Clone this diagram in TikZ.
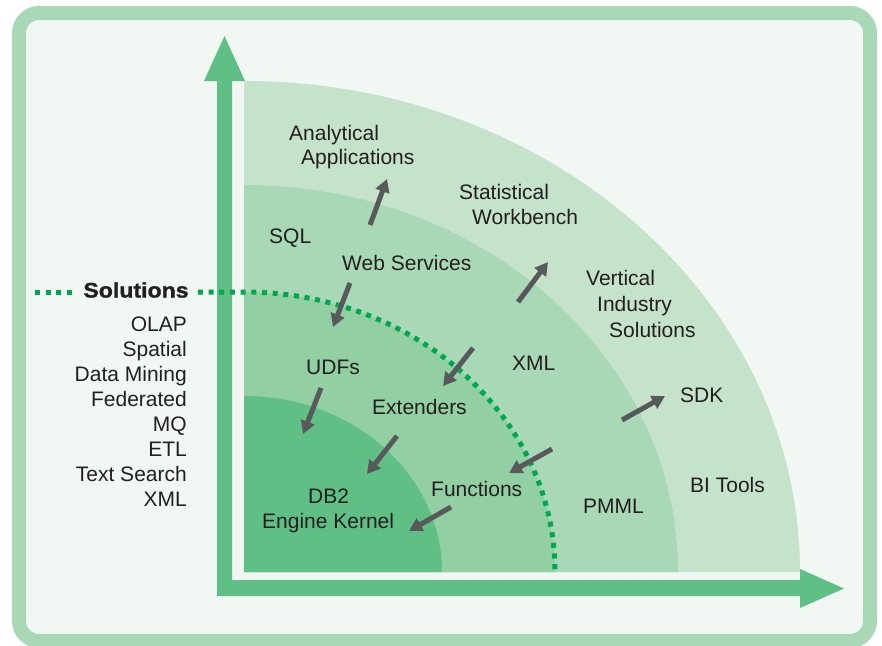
\documentclass[tikz,border=0pt]{standalone}
\usepackage{fontspec}
\setmainfont{Liberation Sans}
\newfontfamily\heavyfont{Liberation Sans}[FakeStretch=1.1, FakeBold=1.3]
\usetikzlibrary{arrows.meta}

\definecolor{frameGreen}{HTML}{A9D8B7}
\definecolor{bgGreen}{HTML}{F1F8F3}
\definecolor{bandA}{HTML}{C4E3CA}
\definecolor{bandB}{HTML}{A9D8B7}
\definecolor{bandC}{HTML}{92CFA3}
\definecolor{bandD}{HTML}{5FBF85}
\definecolor{axisGreen}{HTML}{5FBF85}
\definecolor{dotGreen}{HTML}{00A650}
\definecolor{arrowGray}{HTML}{58595B}
\definecolor{textGray}{HTML}{231F20}

\begin{document}
\begin{tikzpicture}[x=1pt, y=-1pt,
      lbl/.style = {font=\fontsize{21}{25}\selectfont, text=textGray,
                    inner sep=0pt, anchor=base west},
     flow/.style = {draw=arrowGray, line width=5pt,
                    -{Triangle[length=13pt,width=14pt]}},
  dotline/.style = {draw=dotGreen, line width=5pt, dash pattern=on 5pt off 5.7pt}
      ]
    \useasboundingbox (0,0) rectangle (882,645);
    % frame
    \draw[frameGreen, line width=14pt, rounded corners=20pt, fill=bgGreen]
        (19,13) rectangle (870,641);
    % quarter bands
    \foreach \rx/\ry/\c in {556/491/bandA, 434/387/bandB, 311/280/bandC, 198/176/bandD}
        \fill[\c] (244,572) -- ++(\rx,0)
            arc[start angle=0, end angle=-90, x radius=\rx, y radius=\ry] -- cycle;
    % axes
    \fill[axisGreen] (217,596) -- (217,81) -- (204,81) -- (224.5,36) -- (245,81)
        -- (232,81) -- (232,580) -- (800,580) -- (800,569) -- (844,588.5)
        -- (800,608) -- (800,596) -- cycle;

    % solutions line
    \node[lbl, anchor=center, inner xsep=9pt, font=\fontsize{21}{25}\heavyfont\bfseries]
        (sol) at (136,290) {Solutions};
    \coordinate (dl) at (35,292);
    \coordinate (dr) at (244,292);
    \draw[dotline] (dl) -- (dl -| sol.west);
    \draw[dotline] (dr -| sol.east) -- (dr)
        arc[start angle=-90, end angle=0, x radius=311, y radius=280];
    \foreach \t [count=\i from 0] in {OLAP, Spatial, Data Mining, Federated, MQ, ETL, Text Search, XML}
        \node[lbl, anchor=base east] (s\i) at (187,{331+25.14*\i}) {\t};

    % labels
    \node[lbl] (ana)  at (289,140) {Analytical};
    \node[lbl] (app)  at (301,164) {Applications};
    \node[lbl] (stat) at (459,199) {Statistical};
    \node[lbl] (wb)   at (472,224) {Workbench};
    \node[lbl] (sql)  at (269,243) {SQL};
    \node[lbl] (ws)   at (342,270) {Web Services};
    \node[lbl] (vert) at (586,285) {Vertical};
    \node[lbl] (ind)  at (597,311) {Industry};
    \node[lbl] (vsol) at (609,337) {Solutions};
    \node[lbl] (xml)  at (512,370) {XML};
    \node[lbl] (udf)  at (306,374) {UDFs};
    \node[lbl] (sdk)  at (680,402) {SDK};
    \node[lbl] (ext)  at (372,414) {Extenders};
    \node[lbl] (bi)   at (690,492) {BI Tools};
    \node[lbl] (fun)  at (431,496) {Functions};
    \node[lbl] (db2)  at (308,503) {DB2};
    \node[lbl] (kern) at (262,528) {Engine Kernel};
    \node[lbl] (pmml) at (583,513) {PMML};

    % arrows
    \foreach \i/\tx/\ty/\hx/\hy in {1/370/225/387/179, 2/518/302/548/262,
            3/350/283/333/327, 4/473/348/443/386, 5/321/388/303/434,
            6/397/436/367/474, 7/552/449/509/473, 8/451/507/409/531,
            9/622/420/665/396}
    {
        \coordinate (t\i) at (\tx,\ty);
        \coordinate (h\i) at (\hx,\hy);
        \draw[flow] (t\i) -- (h\i);
    }
\end{tikzpicture}
\end{document}
